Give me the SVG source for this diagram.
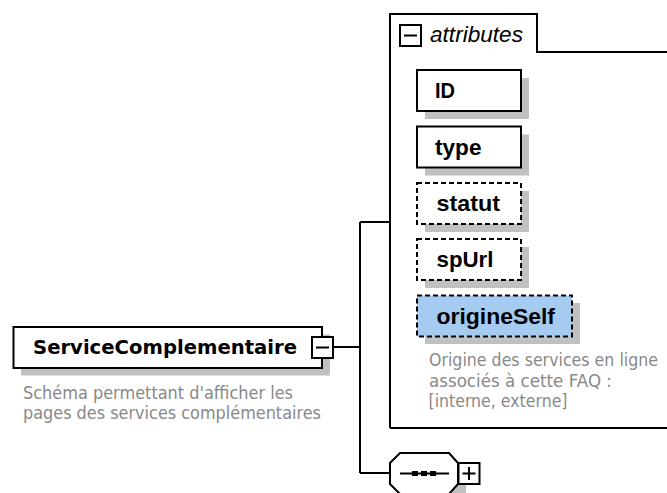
<svg xmlns="http://www.w3.org/2000/svg" width="667" height="493" viewBox="0 0 667 493">
<style>
.box{fill:#fff;stroke:#000;stroke-width:2}
.opt{fill:#fff;stroke:#000;stroke-width:2;stroke-dasharray:5,3}
.sel{fill:#a6cbf0}
.shadow{fill:#c0c0c0}
.line{fill:none;stroke:#000;stroke-width:2}
.name{font-family:"Liberation Sans",Arial,sans-serif;font-weight:bold;font-size:22px;fill:#000}
.main{font-family:"DejaVu Sans",Verdana,sans-serif;font-weight:bold;font-size:19.5px;fill:#000}
.desc{font-family:"DejaVu Sans",Verdana,sans-serif;font-size:17px;fill:#888}
.ital{font-family:"Liberation Sans",Arial,sans-serif;font-style:italic;font-size:22px;fill:#000}
</style>
<rect width="667" height="493" fill="#fff"/>
<g id="connectors">
<path class="line" d="M333 347 H360 M360 222 V473 M360 222 H390 M360 473 H390"/>
</g>
<g id="attributes">
<path class="line" d="M390 428 V14 H537 V52 H670 M390 428 H670"/>
<rect class="box" x="400" y="25" width="21" height="21"/>
<path class="line" d="M404 35.5 H417"/>
<text class="ital" x="430" y="41.5" textLength="93" lengthAdjust="spacingAndGlyphs">attributes</text>
</g>
<g id="ID">
<rect class="shadow" x="425" y="78" width="104" height="41"/>
<rect class="box" x="417" y="70" width="104" height="41"/>
<text class="name" x="435" y="98" textLength="20" lengthAdjust="spacingAndGlyphs">ID</text>
</g>
<g id="type">
<rect class="shadow" x="425" y="134.5" width="104" height="41"/>
<rect class="box" x="417" y="126.5" width="104" height="41"/>
<text class="name" x="435" y="154.5" textLength="46.5" lengthAdjust="spacingAndGlyphs">type</text>
</g>
<g id="statut">
<rect class="shadow" x="425" y="191" width="104" height="41"/>
<rect class="opt" x="417" y="183" width="104" height="41"/>
<text class="name" x="436.5" y="210.5" textLength="63.5" lengthAdjust="spacingAndGlyphs">statut</text>
</g>
<g id="spUrl">
<rect class="shadow" x="425" y="247" width="104" height="41"/>
<rect class="opt" x="417" y="239" width="104" height="41"/>
<text class="name" x="436.5" y="267" textLength="57" lengthAdjust="spacingAndGlyphs">spUrl</text>
</g>
<g id="origineSelf">
<rect class="shadow" x="425" y="303" width="155" height="41"/>
<rect class="opt sel" x="417" y="295.5" width="155" height="41" style="fill:#a6cbf0"/>
<text class="name" x="436.5" y="323.5" textLength="118.5" lengthAdjust="spacingAndGlyphs">origineSelf</text>
<text class="desc" x="429" y="366" textLength="229" lengthAdjust="spacingAndGlyphs">Origine des services en ligne</text>
<text class="desc" x="429" y="386.5" textLength="183" lengthAdjust="spacingAndGlyphs">associés à cette FAQ :</text>
<text class="desc" x="428.5" y="407" textLength="139" lengthAdjust="spacingAndGlyphs">[interne, externe]</text>
</g>
<g id="ServiceComplementaire">
<rect class="shadow" x="21" y="334.5" width="309" height="41"/>
<rect class="box" x="13.5" y="327" width="308.5" height="41"/>
<text class="main" x="33" y="353.5" textLength="264" lengthAdjust="spacingAndGlyphs">ServiceComplementaire</text>
<rect class="box" x="312" y="337" width="21" height="21"/>
<path class="line" d="M316 347.5 H329"/>
<text class="desc" x="23" y="398.5" textLength="270" lengthAdjust="spacingAndGlyphs">Schéma permettant d'afficher les</text>
<text class="desc" x="23" y="418.5" textLength="298" lengthAdjust="spacingAndGlyphs">pages des services complémentaires</text>
</g>
<g id="sequence">
<path class="shadow" d="M407 460 H456 L466 470 V500 H397 V470 Z"/>
<path class="box" d="M400 453 H449 L458 463 V484 L449 494 H400 L390 484 V463 Z"/>
<path class="line" d="M400 473.5 H449"/>
<rect x="412" y="471" width="6" height="5" fill="#000"/>
<rect x="421" y="471" width="6" height="5" fill="#000"/>
<rect x="430" y="471" width="6" height="5" fill="#000"/>
<rect class="box" x="458.5" y="463" width="21" height="21"/>
<path class="line" d="M462.5 473.5 H475.5 M469 467 V480"/>
</g>
</svg>
